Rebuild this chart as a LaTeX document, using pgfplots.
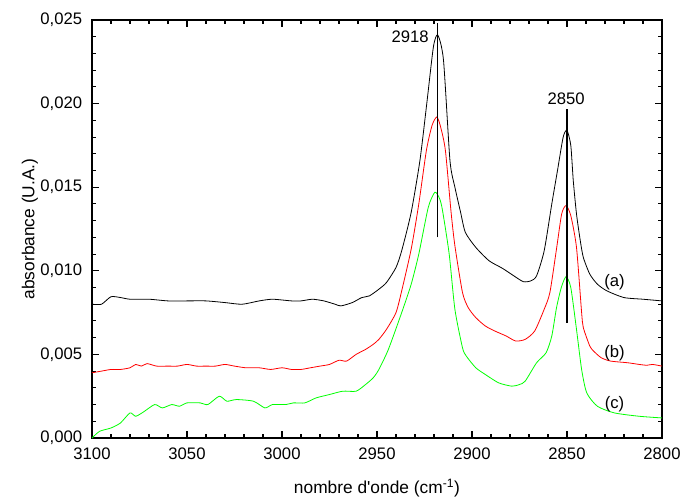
\documentclass[border=0pt]{standalone}
\usepackage{pgfplots}
\pgfplotsset{compat=1.18}
\usepackage{fontspec}
\setmainfont{Liberation Sans}
\begin{document}
\fontsize{12.5pt}{15pt}\selectfont
\begin{tikzpicture}
\begin{axis}[
  scale only axis,
  width=427.5pt, height=313.5pt,
  xmin=2800, xmax=3100, x dir=reverse,
  ymin=0, ymax=0.025,
  xtick={2800,2850,...,3100},
  ytick={0,0.005,...,0.025},
  minor x tick num=4, minor y tick num=4,
  tick align=inside,
  major tick length=5pt, minor tick length=3pt,
  axis line style={line width=1pt},
  every tick/.style={black, line width=0.8pt},
  scaled y ticks=false,
  xticklabel style={yshift=-3pt, inner xsep=0pt, /pgf/number format/.cd, 1000 sep={}, assume math mode=true},
  yticklabel style={xshift=-3pt, /pgf/number format/.cd, fixed, fixed zerofill, precision=3, use comma, assume math mode=true},
  xlabel={nombre d\textquotesingle onde (cm\textsuperscript{-1})},
  ylabel={absorbance (U.A.)},
  xlabel style={at={(axis description cs:0.5,-0.1196)}, anchor=center, inner sep=0pt},
  ylabel style={at={(axis description cs:-0.1088,0.5)}, anchor=center, inner sep=0pt},
  tick label style={font=\fontsize{12.5pt}{15pt}\selectfont},
  label style={font=\fontsize{13pt}{15pt}\selectfont},
  every axis plot/.append style={smooth, tension=0.4},
]
% (a) black
\addplot[black, line width=0.6pt] coordinates {
(3100,0.0080)(3095,0.0080)(3090,0.00845)(3085,0.0084)(3080,0.0083)(3070,0.0083)(3060,0.0082)(3050,0.0082)(3040,0.0082)(3030,0.0081)(3021,0.0080)(3012,0.0082)(3005,0.0083)(2995,0.0082)(2990,0.0082)(2984,0.0083)(2978,0.0082)(2972,0.0080)(2969,0.0079)(2963,0.0081)(2958,0.0084)(2954,0.0085)(2949,0.0089)(2945,0.0093)(2940,0.0102)(2937,0.0112)(2932,0.0135)(2927.4,0.0166)(2923.8,0.0200)(2920.3,0.0234)(2918,0.0241)(2915,0.0226)(2911.6,0.0166)(2909,0.0150)(2906,0.0135)(2903.5,0.0123)(2898,0.0114)(2891,0.0106)(2884,0.01015)(2878,0.0097)(2873,0.00935)(2869,0.0094)(2866,0.0097)(2862,0.0112)(2858,0.0140)(2855,0.0160)(2852,0.0180)(2850,0.0184)(2848,0.0175)(2846.7,0.0154)(2845,0.0134)(2843,0.0118)(2841.4,0.0108)(2838,0.0098)(2834,0.0092)(2829,0.0088)(2820,0.0084)(2810,0.0083)(2800,0.0082)
};
% (b) red
\addplot[red, line width=0.6pt] coordinates {
(3100,0.0039)(3095,0.0040)(3090,0.0041)(3085,0.0041)(3080,0.0042)(3077,0.0044)(3074,0.0043)(3071,0.00445)(3066,0.0043)(3060,0.0043)(3055,0.0043)(3050,0.0044)(3045,0.0043)(3040,0.0043)(3035,0.0043)(3030,0.0044)(3025,0.0043)(3019,0.0042)(3012,0.0042)(3006,0.0041)(3000,0.0042)(2995,0.0041)(2990,0.0041)(2985,0.0042)(2980,0.0043)(2975,0.0044)(2970,0.00465)(2966,0.0046)(2961,0.0050)(2956,0.0053)(2952,0.0056)(2949,0.0059)(2945,0.0065)(2940,0.0075)(2937,0.0088)(2932,0.0113)(2928,0.0140)(2924,0.0172)(2921,0.0187)(2918.5,0.0192)(2916.5,0.0186)(2914,0.0172)(2911,0.0135)(2909,0.0115)(2905,0.0087)(2902,0.0078)(2898,0.0072)(2893,0.0067)(2888,0.0064)(2882,0.0061)(2877,0.0058)(2872,0.0059)(2867,0.0064)(2862,0.0077)(2859,0.0087)(2855.4,0.0114)(2852.8,0.0134)(2850.5,0.0139)(2848,0.0133)(2845,0.0114)(2842.3,0.0075)(2841.4,0.0066)(2838,0.0055)(2836,0.0052)(2832,0.0048)(2827,0.0046)(2818,0.0045)(2812,0.0044)(2808,0.00435)(2805,0.0044)(2800,0.0043)
};
% (c) green
\addplot[green, line width=0.6pt] coordinates {
(3100,0.0000)(3096,0.0004)(3090,0.0006)(3085,0.0009)(3080,0.0015)(3077,0.0013)(3073,0.00155)(3067,0.0020)(3063,0.0018)(3058,0.0020)(3054,0.0019)(3050,0.0021)(3043,0.0021)(3039,0.0020)(3033,0.0025)(3029,0.0022)(3024,0.0023)(3015,0.0022)(3009,0.0018)(3005,0.0020)(2998,0.0020)(2994,0.0021)(2988,0.0021)(2982,0.0024)(2975,0.0026)(2968,0.0028)(2961,0.0028)(2956,0.0032)(2952,0.0036)(2949,0.0041)(2944,0.0053)(2937,0.0075)(2932,0.0092)(2928,0.0110)(2923,0.0138)(2919.5,0.0147)(2917,0.0143)(2915.5,0.0136)(2912,0.0110)(2909,0.0077)(2905,0.0054)(2903,0.0049)(2898,0.0042)(2893,0.0038)(2886,0.0033)(2879,0.0031)(2875,0.0032)(2872,0.0034)(2866,0.0045)(2861,0.0051)(2858,0.0061)(2855.5,0.0078)(2853,0.0090)(2850.5,0.00965)(2848,0.0090)(2845,0.0065)(2842.3,0.0041)(2839.6,0.0027)(2834,0.0019)(2825,0.0015)(2812,0.0013)(2800,0.0012)
};
% marker lines
\addplot[black, line width=0.9pt, sharp plot] coordinates {(2918,0.0120)(2918,0.0248)};
\addplot[black, line width=0.9pt, sharp plot] coordinates {(2850,0.0069)(2850,0.0197)};
\node[anchor=east, inner sep=1pt] at (axis cs:2922,0.0240) {2918};
\node[inner sep=1pt] at (axis cs:2850.5,0.0203) {2850};
\node at (axis cs:2825,0.0093) {(a)};
\node at (axis cs:2825,0.0051) {(b)};
\node at (axis cs:2825,0.0020) {(c)};
\end{axis}
\path ([shift={(-69pt,-44.25pt)}]current axis.south west);
\path ([shift={(15pt,15pt)}]current axis.north east);
\end{tikzpicture}
\end{document}
